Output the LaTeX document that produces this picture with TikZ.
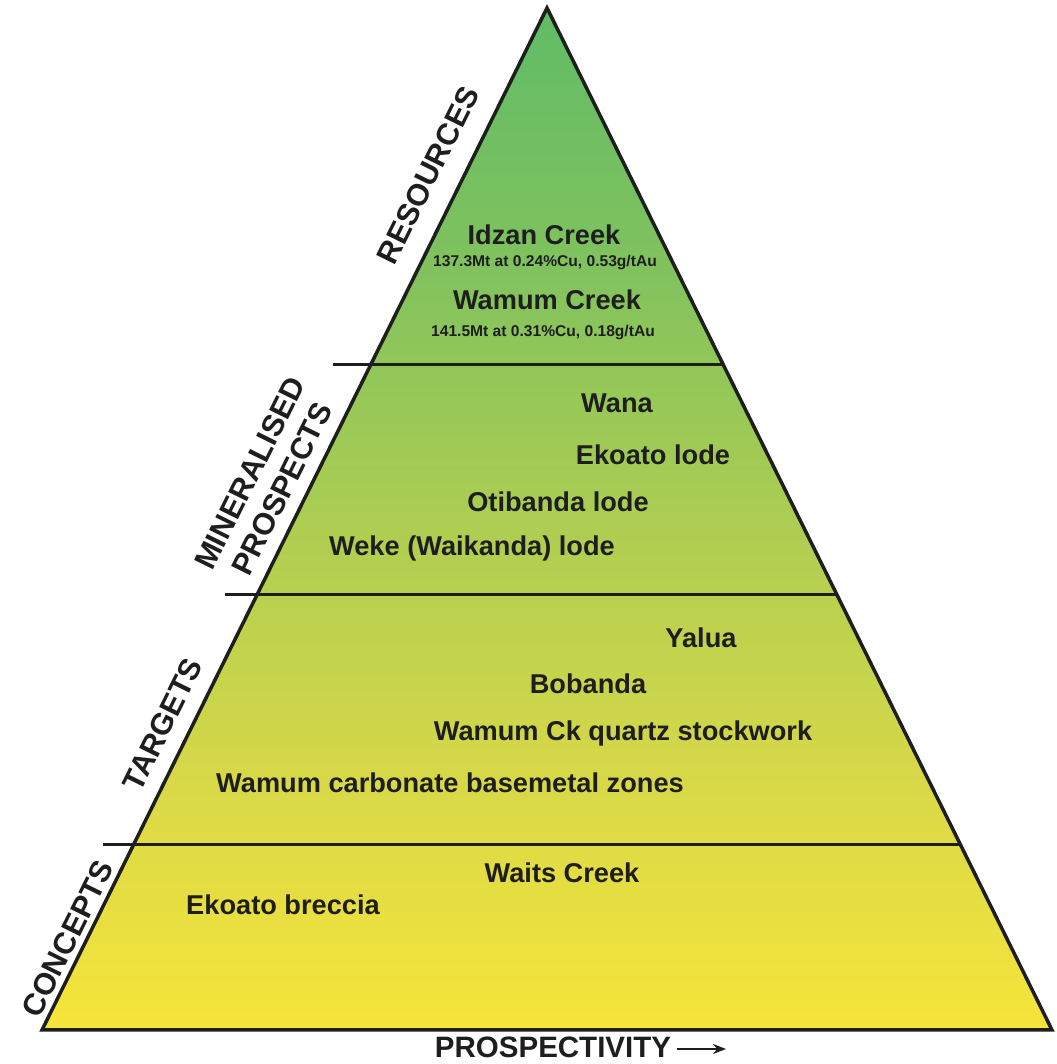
\documentclass[tikz,border=0pt]{standalone}
\usepackage{fontspec}
\setmainfont{Liberation Sans}
\usepackage{tikz}
\usetikzlibrary{arrows.meta}

\definecolor{pyryellow}{RGB}{246,229,58}
\definecolor{pyrlow}{RGB}{215,216,72}
\definecolor{pyrmid}{RGB}{172,205,82}
\definecolor{pyrhigh}{RGB}{128,194,94}
\definecolor{pyrgreen}{RGB}{96,188,102}
\definecolor{pyrtext}{RGB}{30,30,30}

\pgfdeclareverticalshading{pyramidfill}{100bp}{color(0bp)=(pyryellow); color(25bp)=(pyryellow); color(37.5bp)=(pyrlow); color(50bp)=(pyrmid); color(62.5bp)=(pyrhigh); color(75bp)=(pyrgreen); color(100bp)=(pyrgreen)}

\tikzset{
	item/.style={text=pyrtext, font=\bfseries\fontsize{27.2}{30}\selectfont, inner sep=0pt},
	itemdata/.style={text=pyrtext, font=\bfseries\fontsize{15.6}{18}\selectfont, inner sep=0pt},
	tier/.style={text=pyrtext, font=\bfseries\fontsize{30.5}{36}\selectfont, inner sep=0pt, rotate=63.7, align=center},
	band/.style={line width=3pt, pyrtext}
}

\begin{document}
\begin{tikzpicture}[x=1pt,y=1pt]
	\useasboundingbox (0,0) rectangle (1056,1064);

	\shade[shading=pyramidfill] (42,34) -- (547,1056) -- (1052,34) -- cycle;
	\draw[line width=3.5pt, pyrtext] (42,34) -- (547,1056) -- (1052,34) -- cycle;

	\draw[band] (333,699) -- (723.4,699);
	\draw[band] (225,469) -- (837,469);
	\draw[band] (103,219) -- (960.6,219);

	\node[tier] (resources) at (428,889) {RESOURCES};
	\node[tier] (mineralised) at (266,583) {MINERALISED\\PROSPECTS};
	\node[tier] (targets) at (162.5,339.5) {TARGETS};
	\node[tier] (concepts) at (67.5,125.5) {CONCEPTS};

	\node[item] (idzan) at (544,829) {Idzan Creek};
	\node[itemdata] (idzandata) at (545,801) {137.3Mt at 0.24\%Cu, 0.53g/tAu};
	\node[item] (wamum) at (547,764) {Wamum Creek};
	\node[itemdata] (wamumdata) at (543,731) {141.5Mt at 0.31\%Cu, 0.18g/tAu};

	\node[item] (wana) at (617,661) {Wana};
	\node[item] (ekoatolode) at (653,609) {Ekoato lode};
	\node[item] (otibanda) at (558,562) {Otibanda lode};
	\node[item] (weke) at (472,516) {Weke (Waikanda) lode};

	\node[item] (yalua) at (701,426) {Yalua};
	\node[item] (bobanda) at (588,380) {Bobanda};
	\node[item] (wamumck) at (623,331) {Wamum Ck quartz stockwork};
	\node[item] (wamumcarb) at (450,281) {Wamum carbonate basemetal zones};

	\node[item] (waits) at (562,191) {Waits Creek};
	\node[item] (ekoatobreccia) at (283,159) {Ekoato breccia};

	\node[item, font=\bfseries\fontsize{29.5}{34}\selectfont] (prosp) at (553,17) {PROSPECTIVITY};
	\coordinate (prospend) at (726,15);
	\draw[line width=1.6pt, pyrtext, -{Stealth[length=13pt,width=10pt]}] ([xshift=6pt,yshift=-2pt]prosp.east) -- (prospend);
\end{tikzpicture}
\end{document}
